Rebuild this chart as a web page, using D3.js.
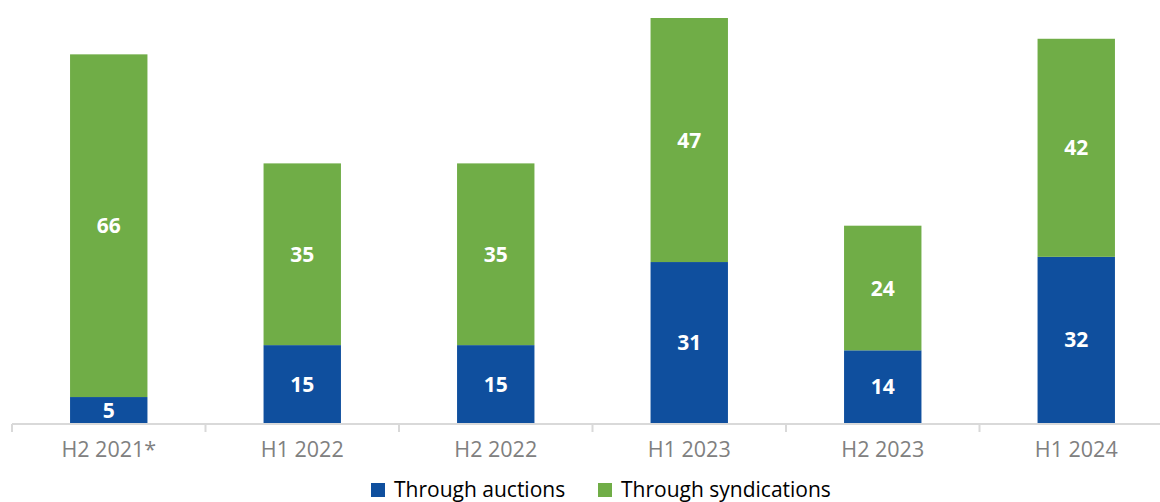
<!DOCTYPE html>
<html>
<head>
<meta charset="utf-8">
<script src="https://cdn.jsdelivr.net/npm/d3@7"></script>
<style>
  body { margin: 0; background: #fff; }
  svg { display: block; font-family: 'Open Sans', sans-serif; }
</style>
</head>
<body>
<div id="chart"></div>
<script>
const categories = ['H2 2021*', 'H1 2022', 'H2 2022', 'H1 2023', 'H2 2023', 'H1 2024']
const auctions = [5, 15, 15, 31, 14, 32]
const syndications = [66, 35, 35, 47, 24, 42]
const seriesNames = ['Through auctions', 'Through syndications']
const colors = ['#0f4f9e', '#70ad47']

const width = 1160
const height = 502
const margin = { top: 10, left: 12, bottom: 79 }

const data = categories.map((c, i) => ({ cat: c, auctions: auctions[i], syndications: syndications[i] }))

const svg = d3.select('#chart').append('svg')
  .attr('width', width)
  .attr('height', height)

const x = d3.scaleBand()
  .domain(categories)
  .range([margin.left, margin.left + 193.5 * categories.length])
  .paddingInner(0.6)
  .paddingOuter(0.3)

const y = d3.scaleLinear()
  .domain([0, 78])
  .range([height - margin.bottom, height - margin.bottom - 405])

const stack = d3.stack().keys(['auctions', 'syndications'])(data)

const g = svg.append('g')

const layers = g.selectAll('.layer')
  .data(stack)
  .enter().append('g')
  .attr('fill', (d, i) => colors[i])

layers.selectAll('rect')
  .data(d => d)
  .enter().append('rect')
  .attr('x', d => x(d.data.cat))
  .attr('y', d => y(d[1]))
  .attr('width', x.bandwidth())
  .attr('height', d => y(d[0]) - y(d[1]))

layers.selectAll('text')
  .data(d => d)
  .enter().append('text')
  .attr('x', d => x(d.data.cat) + x.bandwidth() / 2)
  .attr('y', d => (y(d[0]) + y(d[1])) / 2)
  .attr('dy', '0.36em')
  .attr('text-anchor', 'middle')
  .attr('fill', '#fff')
  .attr('font-weight', 'bold')
  .attr('font-size', 21)
  .text(d => d[1] - d[0])

// x axis with ticks at band edges
const band = x.step()
const x0 = margin.left
const axisY = y(0) + 1
const axis = svg.append('g').attr('stroke', '#d9d9d9').attr('stroke-width', 2)
axis.append('line')
  .attr('x1', x0).attr('x2', x0 + band * categories.length)
  .attr('y1', axisY).attr('y2', axisY)
axis.selectAll('.tick')
  .data(d3.range(categories.length + 1))
  .enter().append('line')
  .attr('x1', i => x0 + i * band).attr('x2', i => x0 + i * band)
  .attr('y1', axisY).attr('y2', axisY + 8)

svg.append('g').selectAll('text')
  .data(categories)
  .enter().append('text')
  .attr('x', d => x(d) + x.bandwidth() / 2)
  .attr('y', axisY + 33)
  .attr('text-anchor', 'middle')
  .attr('fill', '#808080')
  .attr('font-size', 21.5)
  .text(d => d)

// legend
const legendX = [371, 598]
const legend = svg.append('g')
  .selectAll('g')
  .data(seriesNames)
  .enter().append('g')
  .attr('transform', (d, i) => 'translate(' + legendX[i] + ',483)')
legend.append('rect')
  .attr('width', 14).attr('height', 14)
  .attr('fill', (d, i) => colors[i])
legend.append('text')
  .attr('x', 23).attr('y', 14)
  .attr('font-size', 21)
  .attr('fill', '#000')
  .text(d => d)
</script>
</body>
</html>
